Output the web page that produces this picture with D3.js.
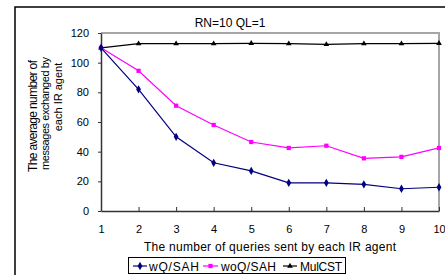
<!DOCTYPE html>
<html>
<head>
<meta charset="utf-8">
<script src="https://cdn.jsdelivr.net/npm/d3@7"></script>
<style>
  body { margin: 0; background: #fff; }
  svg { display: block; font-family: "Liberation Sans", Arial, sans-serif; }
</style>
</head>
<body>
<div id="chart"></div>
<script>
// data
var queries = [1, 2, 3, 4, 5, 6, 7, 8, 9, 10];
var wQSAH = [110, 82, 50, 32.5, 27, 19, 19, 18, 15, 16];
var woQSAH = [110, 94.5, 71, 58, 46.5, 42.5, 44, 35.5, 36.5, 42.5];
var mulCST = [110, 112.8, 112.8, 112.8, 113, 112.8, 112.3, 112.8, 112.8, 113];
var seriesNames = ["wQ/SAH", "woQ/SAH", "MulCST"];
var yTicks = [0, 20, 40, 60, 80, 100, 120];
var chartTitle = "RN=10 QL=1";
var xTitle = "The number of queries sent by each IR agent";
var yTitleLines = ["The average number of", "messages exchanged by", "each IR agent"];

var W = 445, H = 275;
var dim = {
  left: 101,
  right: 439,
  top: 33,
  bottom: 211
};

var svg = d3.select("#chart").append("svg")
  .attr("width", W)
  .attr("height", H);

// outer chart frame (cut off at right / bottom)
svg.append("rect")
  .attr("x", 15)
  .attr("y", 7)
  .attr("width", W)
  .attr("height", H)
  .attr("fill", "none")
  .attr("stroke", "#000")
  .attr("stroke-width", 1.5);

var x = d3.scaleLinear().domain([1, 10]).range([dim.left, dim.right]);
var y = d3.scaleLinear().domain([0, 120]).range([dim.bottom, dim.top]);

// plot area border: top + right in grey
svg.append("path")
  .attr("d", "M" + dim.left + "," + dim.top + "H" + dim.right + "V" + dim.bottom)
  .attr("fill", "none")
  .attr("stroke", "#a6a6a6")
  .attr("stroke-width", 2);

// y axis
var yAxis = svg.append("g")
  .attr("transform", "translate(" + dim.left + ",0)")
  .call(d3.axisLeft(y).tickValues(yTicks).tickSizeInner(3).tickSizeOuter(0).tickPadding(9));
yAxis.select(".domain").attr("stroke", "#333").attr("stroke-width", 1.5);
yAxis.selectAll(".tick line").attr("stroke", "#333");
yAxis.selectAll("text").attr("font-size", 11).attr("fill", "#000")
  .attr("font-family", "Liberation Sans, Arial, sans-serif");

// x axis (ticks point up into the plot)
var xAxis = svg.append("g")
  .attr("transform", "translate(0," + dim.bottom + ")")
  .call(d3.axisBottom(x).tickValues(queries).tickFormat(d3.format("d"))
    .tickSizeInner(-4).tickSizeOuter(0).tickPadding(14));
xAxis.select(".domain").attr("stroke", "#333").attr("stroke-width", 1.5);
xAxis.selectAll(".tick line").attr("stroke", "#333");
xAxis.selectAll("text").attr("font-size", 11).attr("fill", "#000")
  .attr("font-family", "Liberation Sans, Arial, sans-serif");

// titles
svg.append("text")
  .attr("x", 230)
  .attr("y", 27)
  .attr("text-anchor", "middle")
  .attr("font-size", 12)
  .text(chartTitle);

svg.append("text")
  .attr("x", 144)
  .attr("y", 251)
  .attr("font-size", 12)
  .attr("textLength", 252)
  .attr("lengthAdjust", "spacing")
  .text(xTitle);

var yTitleDim = [
  { cx: 37, cy: 116, len: 112, size: 12 },
  { cx: 49, cy: 113.5, len: 113, size: 11 },
  { cx: 61.5, cy: 97, len: null, size: 11 }
];
yTitleLines.forEach(function(line, i) {
  var d = yTitleDim[i];
  var t = svg.append("text")
    .attr("transform", "translate(" + d.cx + "," + d.cy + ") rotate(-90)")
    .attr("font-size", d.size)
    .text(line);
  if (d.len) {
    t.attr("x", -d.len / 2)
      .attr("textLength", d.len)
      .attr("lengthAdjust", "spacing");
  } else {
    t.attr("text-anchor", "middle");
  }
});

// series
var series = [
  { name: seriesNames[0], values: wQSAH, color: "#000080", marker: d3.symbolDiamond, size: 20 },
  { name: seriesNames[1], values: woQSAH, color: "#ff00ff", marker: d3.symbolSquare, size: 18 },
  { name: seriesNames[2], values: mulCST, color: "#000000", marker: d3.symbolTriangle, size: 14 }
];

var line = d3.line()
  .x(function(d) { return x(d.q); })
  .y(function(d) { return y(d.v); });

// draw in reverse so the first series sits on top
series.slice().reverse().forEach(function(s) {
  var pts = queries.map(function(q, i) { return { q: q, v: s.values[i] }; });
  svg.append("path")
    .datum(pts)
    .attr("d", line)
    .attr("fill", "none")
    .attr("stroke", s.color)
    .attr("stroke-width", 1.2);
  svg.selectAll(null)
    .data(pts)
    .enter().append("path")
    .attr("transform", function(d) { return "translate(" + x(d.q) + "," + y(d.v) + ")"; })
    .attr("d", d3.symbol().type(s.marker).size(s.size))
    .attr("fill", s.color);
});

// legend
var legend = svg.append("g");
legend.append("rect")
  .attr("x", 128.5)
  .attr("y", 257.5)
  .attr("width", 217)
  .attr("height", 16)
  .attr("fill", "#fff")
  .attr("stroke", "#000")
  .attr("stroke-width", 1);

var legendDim = [
  { x1: 133, x2: 147, tx: 149, len: 50 },
  { x1: 203, x2: 218, tx: 221, len: 55 },
  { x1: 283, x2: 297, tx: 300, len: 42 }
];
series.forEach(function(s, i) {
  var d = legendDim[i];
  var ly = 266;
  legend.append("line")
    .attr("x1", d.x1).attr("x2", d.x2)
    .attr("y1", ly).attr("y2", ly)
    .attr("stroke", s.color)
    .attr("stroke-width", 1.2);
  legend.append("path")
    .attr("transform", "translate(" + ((d.x1 + d.x2) / 2) + "," + ly + ")")
    .attr("d", d3.symbol().type(s.marker).size(s.size))
    .attr("fill", s.color);
  legend.append("text")
    .attr("x", d.tx)
    .attr("y", ly + 4.5)
    .attr("font-size", 12)
    .attr("textLength", d.len)
    .attr("lengthAdjust", "spacing")
    .text(s.name);
});
</script>
</body>
</html>
